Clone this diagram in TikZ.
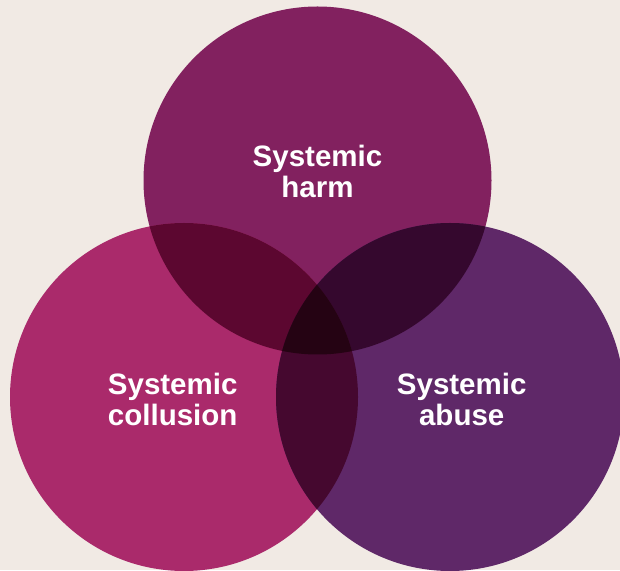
\documentclass[tikz,border=0pt]{standalone}
\usepackage{fontspec}
\setmainfont{Liberation Sans}
\definecolor{bgc}{HTML}{F1EAE4}
\definecolor{topc}{HTML}{82215F}
\definecolor{leftc}{HTML}{AA2A6B}
\definecolor{rightc}{HTML}{5F2868}
\definecolor{tlc}{HTML}{5C0730}
\definecolor{trc}{HTML}{35082E}
\definecolor{lrc}{HTML}{45082F}
\definecolor{allc}{HTML}{250313}
\begin{document}
\begin{tikzpicture}[x=1pt,y=1pt,
  lbl/.style={text=white,font=\bfseries\fontsize{29.5}{31.5}\selectfont,align=center,inner sep=0pt}]
\fill[bgc] (0,0) rectangle (620,570);
\useasboundingbox (0,0) rectangle (620,570);
\coordinate (T) at (317.5,389.5);
\coordinate (L) at (184,173);
\coordinate (R) at (450,173);
\def\rr{174}
\fill[topc] (T) circle (\rr);
\fill[leftc] (L) circle (\rr);
\fill[rightc] (R) circle (\rr);
\begin{scope}
  \clip (T) circle (\rr);
  \fill[tlc] (L) circle (\rr);
  \fill[trc] (R) circle (\rr);
\end{scope}
\begin{scope}
  \clip (L) circle (\rr);
  \fill[lrc] (R) circle (\rr);
  \clip (T) circle (\rr);
  \fill[allc] (R) circle (\rr);
\end{scope}
\node[lbl] (th) at (317.5,398.7) {Systemic\\harm};
\node[lbl] (lh) at (172.7,170.3) {Systemic\\collusion};
\node[lbl] (rh) at (461.7,170.3) {Systemic\\abuse};
\end{tikzpicture}
\end{document}
